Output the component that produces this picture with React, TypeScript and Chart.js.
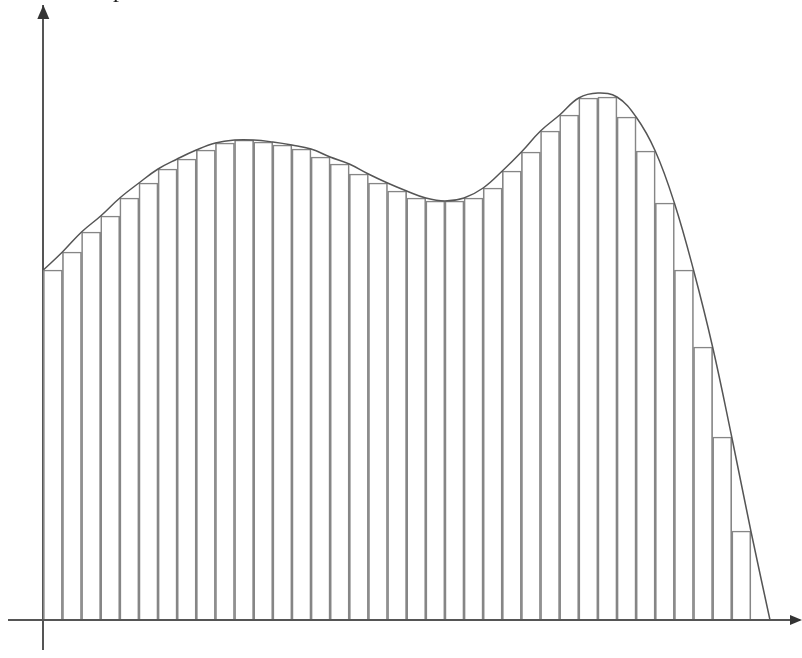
import React, { useEffect, useRef } from "react";
import { Chart, registerables } from "chart.js";

Chart.register(...registerables);

// Sample points of the curve (x in subinterval units, y in function units)
const curveX = [
  0, 1, 2, 3, 4, 5, 6, 7, 8, 9, 10, 11, 12, 13, 14, 15, 16, 17, 18, 19,
  20, 21, 22, 23, 24, 25, 26, 27, 28, 29, 30, 31, 32, 33, 34, 35, 36, 37, 38,
];
const curveY = [
  3.5, 3.68, 3.88, 4.04, 4.22, 4.37, 4.51, 4.61, 4.7, 4.77, 4.8, 4.8, 4.78,
  4.75, 4.71, 4.63, 4.56, 4.46, 4.37, 4.29, 4.22, 4.19, 4.22, 4.32, 4.49,
  4.68, 4.89, 5.05, 5.22, 5.27, 5.23, 5.03, 4.69, 4.17, 3.5, 2.73, 1.83, 0.89,
  0.0,
];

// Inscribed rectangles (lower sum): left edge of each subinterval and its height
const barLeft = [
  0, 1, 2, 3, 4, 5, 6, 7, 8, 9, 10, 11, 12, 13, 14, 15, 16, 17, 18, 19, 20,
  21, 22, 23, 24, 25, 26, 27, 28, 29, 30, 31, 32, 33, 34, 35, 36, 37,
];
const barHeight = [
  3.5, 3.68, 3.88, 4.04, 4.22, 4.37, 4.51, 4.61, 4.7, 4.77, 4.8, 4.78, 4.75,
  4.71, 4.63, 4.56, 4.46, 4.37, 4.29, 4.22, 4.19, 4.19, 4.22, 4.32, 4.49,
  4.68, 4.89, 5.05, 5.22, 5.23, 5.03, 4.69, 4.17, 3.5, 2.73, 1.83, 0.89, 0.0,
];

const axisTicks = [0];
const scanText = "p";

const arrowPlugin = {
  id: "axisArrows",
  afterDraw(chart: any) {
    const { ctx, chartArea, scales } = chart;
    const x0 = scales.x.getPixelForValue(0);
    const y0 = scales.y.getPixelForValue(0);
    ctx.save();
    ctx.fillStyle = "#333";
    // up arrow on vertical axis
    ctx.beginPath();
    ctx.moveTo(x0, chartArea.top);
    ctx.lineTo(x0 - 6, chartArea.top + 14);
    ctx.lineTo(x0 + 6, chartArea.top + 14);
    ctx.closePath();
    ctx.fill();
    // right arrow on horizontal axis
    ctx.beginPath();
    ctx.moveTo(chartArea.right + 2, y0);
    ctx.lineTo(chartArea.right - 10, y0 - 5);
    ctx.lineTo(chartArea.right - 10, y0 + 5);
    ctx.closePath();
    ctx.fill();
    // scanned fragment of text at the top edge
    ctx.fillStyle = "#222";
    ctx.font = "24px 'Liberation Serif', serif";
    ctx.textBaseline = "alphabetic";
    ctx.fillText(scanText, 113, -3);
    ctx.restore();
  },
};

export default function App() {
  const ref = useRef<HTMLCanvasElement | null>(null);

  useEffect(() => {
    if (!ref.current) return;
    const chart = new Chart(ref.current, {
      type: "bar",
      data: {
        datasets: [
          {
            type: "line",
            label: "f(x)",
            data: curveX.map((x, i) => ({ x, y: curveY[i] })),
            borderColor: "#555555",
            borderWidth: 1.5,
            pointRadius: 0,
            tension: 0.4,
            fill: false,
          } as any,
          {
            type: "bar",
            label: "rectangles",
            data: barLeft.map((x, i) => ({ x: x + 0.5, y: barHeight[i] })),
            backgroundColor: "rgba(0,0,0,0)",
            borderColor: "#868686",
            borderWidth: { left: 1, right: 1, top: 1, bottom: 0 },
            borderSkipped: false,
            barPercentage: 1,
            categoryPercentage: 1,
          } as any,
        ],
      },
      options: {
        animation: false,
        responsive: false,
        maintainAspectRatio: false,
        layout: { padding: { left: 8, top: 5, right: 2, bottom: 8 } },
        plugins: {
          legend: { display: false },
          tooltip: { enabled: false },
          title: { display: false },
        },
        scales: {
          x: {
            type: "linear",
            offset: false,
            min: -1.846,
            max: 39.569,
            afterBuildTicks: (s: any) => {
              s.ticks = axisTicks.map((v) => ({ value: v }));
            },
            ticks: { display: false },
            grid: { color: "#555", lineWidth: 2, drawTicks: false, offset: false },
            border: { display: false },
          },
          y: {
            type: "linear",
            min: -0.3,
            max: 6.15,
            afterBuildTicks: (s: any) => {
              s.ticks = axisTicks.map((v) => ({ value: v }));
            },
            ticks: { display: false },
            grid: { color: "#555", lineWidth: 2, drawTicks: false },
            border: { display: false },
          },
        },
      },
      plugins: [arrowPlugin],
    });
    return () => chart.destroy();
  }, []);

  return (
    <div
      style={{
        position: "fixed",
        left: 0,
        top: 0,
        width: 802,
        height: 658,
        background: "#fff",
      }}
    >
      <canvas ref={ref} width={802} height={658} />
    </div>
  );
}
